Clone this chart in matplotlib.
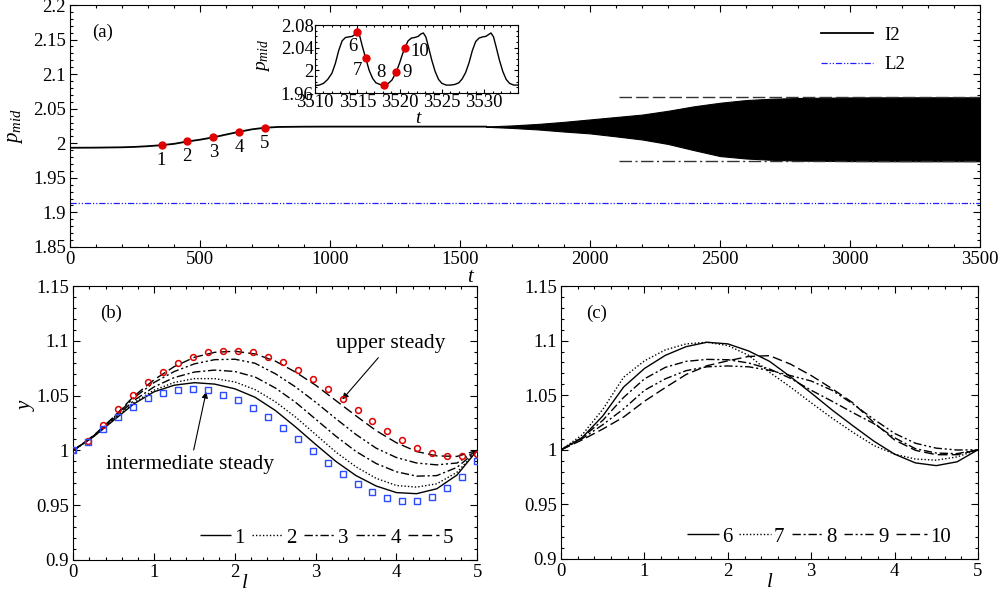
import numpy as np
import matplotlib

matplotlib.use('Agg')
import matplotlib.pyplot as plt
from matplotlib.ticker import MultipleLocator, FuncFormatter

plt.rcParams['font.family'] = ['Liberation Serif', 'DejaVu Serif']
plt.rcParams['mathtext.fontset'] = 'custom'
plt.rcParams['mathtext.rm'] = 'Liberation Serif'
plt.rcParams['mathtext.it'] = 'Liberation Serif:italic'
plt.rcParams['font.size'] = 13.5
plt.rcParams['axes.linewidth'] = 0.8

# ---------- panel (a): p_mid history ----------
t_main = [0, 100, 200, 250, 300, 350, 400, 450, 500, 550, 600, 650, 700, 750, 800, 900, 1000, 1200, 1400, 1600]
p_main = [1.9935, 1.9937, 1.9942, 1.9948, 1.9958, 1.9972, 1.9992, 2.0025, 2.0052, 2.0085, 2.0126, 2.0166,
          2.0202, 2.0225, 2.0236, 2.0240, 2.0241, 2.0241, 2.0241, 2.0241]

# envelope of the self-sustained oscillation
t_env = [1600, 1700, 1800, 1900, 2000, 2100, 2200, 2300, 2400, 2500, 2600, 2700, 2800, 3000, 3200, 3500]
p_up = [2.0243, 2.0258, 2.0280, 2.0310, 2.0345, 2.0380, 2.0415, 2.0470, 2.0535, 2.0586, 2.0625, 2.0645,
        2.0655, 2.0663, 2.0665, 2.0665]
p_lo = [2.0239, 2.0222, 2.0200, 2.0170, 2.0143, 2.0100, 2.0055, 1.9990, 1.9900, 1.9815, 1.9780, 1.9760,
        1.9750, 1.9742, 1.9740, 1.9740]

p_L2 = 1.913
p_max_ref = 2.0664
p_min_ref = 1.9740
t_ref = [2113, 3500]

pt_t = [352, 450, 551, 650, 750]
pt_p = [1.9974, 2.0027, 2.0085, 2.0167, 2.0225]
pt_lab = ['1', '2', '3', '4', '5']

# inset: one stretch of the periodic state
t_ins = [3510.0, 3510.5, 3511.0, 3511.5, 3512.0, 3512.4, 3512.8, 3513.2, 3513.6, 3514.0, 3514.4, 3514.7,
         3515.0, 3515.3, 3515.6, 3516.0, 3516.4, 3516.8, 3517.2, 3517.7, 3518.1, 3518.6, 3519.1, 3519.6,
         3520.0, 3520.3, 3520.6, 3521.0, 3521.4, 3521.8, 3522.2, 3522.5, 3522.8, 3523.1, 3523.4, 3523.8,
         3524.2, 3524.6, 3525.0, 3525.5, 3526.0, 3526.5, 3527.0, 3527.4, 3527.8, 3528.2, 3528.6, 3529.0,
         3529.4, 3529.8, 3530.2, 3530.5, 3530.8, 3531.1, 3531.4, 3531.8, 3532.2, 3532.6, 3533.0, 3533.5, 3534.0]
p_ins = [1.973, 1.974, 1.977, 1.984, 1.995, 2.012, 2.035, 2.052, 2.058, 2.059, 2.060, 2.063,
         2.067, 2.060, 2.042, 2.021, 2.000, 1.986, 1.978, 1.975, 1.974, 1.976, 1.983, 1.997,
         2.013, 2.027, 2.039, 2.052, 2.057, 2.058, 2.060, 2.064, 2.066, 2.059, 2.042, 2.018,
         1.998, 1.984, 1.977, 1.974, 1.974, 1.975, 1.978, 1.985, 1.996, 2.013, 2.035, 2.051,
         2.057, 2.059, 2.060, 2.063, 2.066, 2.059, 2.042, 2.018, 1.998, 1.984, 1.977, 1.974, 1.974]
ins_pt_t = [3515.0, 3516.0, 3518.1, 3519.6, 3520.6]
ins_pt_p = [2.067, 2.021, 1.974, 1.997, 2.039]
ins_lab = ['6', '7', '8', '9', '10']
ins_off = [(-3, -10), (-6, -9), (-2, 9), (8, 0), (11, -2)]

# ---------- panel (b): shapes 1-5 and steady solutions ----------
l_grid = [0, 0.25, 0.5, 0.75, 1.0, 1.25, 1.5, 1.75, 2.0, 2.25, 2.5, 2.75, 3.0, 3.25, 3.5, 3.75, 4.0,
          4.25, 4.5, 4.75, 5.0]
y_b1 = [1.000, 1.0125, 1.0275, 1.0425, 1.0535, 1.0595, 1.0618, 1.0605, 1.0562, 1.0485, 1.0365, 1.0215,
        1.0055, 0.9900, 0.9770, 0.9675, 0.9615, 0.9605, 0.9650, 0.9775, 1.000]
y_b2 = [1.000, 1.0128, 1.0280, 1.0435, 1.0550, 1.0620, 1.0655, 1.0655, 1.0625, 1.0555, 1.0445, 1.0305,
        1.0145, 0.9985, 0.9850, 0.9745, 0.9680, 0.9665, 0.9695, 0.9800, 1.000]
y_b3 = [1.000, 1.0130, 1.0290, 1.0455, 1.0580, 1.0665, 1.0715, 1.0733, 1.0720, 1.0670, 1.0570, 1.0440,
        1.0285, 1.0130, 0.9990, 0.9880, 0.9805, 0.9765, 0.9770, 0.9845, 1.000]
y_b4 = [1.000, 1.0133, 1.0300, 1.0480, 1.0620, 1.0720, 1.0790, 1.0828, 1.0832, 1.0795, 1.0700, 1.0580,
        1.0440, 1.0290, 1.0145, 1.0020, 0.9935, 0.9885, 0.9868, 0.9885, 1.000]
y_b5 = [1.000, 1.0135, 1.0305, 1.0495, 1.0645, 1.0765, 1.0850, 1.0895, 1.0905, 1.0880, 1.0815, 1.0715,
        1.0595, 1.0455, 1.0315, 1.0180, 1.0070, 0.9990, 0.9950, 0.9945, 1.000]

l_st = [0.0, 0.185, 0.370, 0.556, 0.741, 0.926, 1.111, 1.296, 1.481, 1.667, 1.852, 2.037, 2.222, 2.407,
        2.593, 2.778, 2.963, 3.148, 3.333, 3.519, 3.704, 3.889, 4.074, 4.259, 4.444, 4.630, 4.815, 5.0]
y_upper = [1.000, 1.0089, 1.0232, 1.0381, 1.0505, 1.0621, 1.0718, 1.0797, 1.0855, 1.0895, 1.0910, 1.0910,
           1.0895, 1.0855, 1.0804, 1.0730, 1.0651, 1.0563, 1.0469, 1.0369, 1.0271, 1.0180, 1.0095, 1.0025,
           0.9973, 0.9952, 0.9952, 0.9970]
y_inter = [1.000, 1.0074, 1.0192, 1.0308, 1.0399, 1.0475, 1.0527, 1.0551, 1.0560, 1.0548, 1.0509, 1.0457,
           1.0387, 1.0302, 1.0204, 1.0101, 0.9991, 0.9885, 0.9785, 0.9693, 0.9617, 0.9563, 0.9538, 0.9541,
           0.9578, 0.9654, 0.9760, 0.9903]

# ---------- panel (c): shapes 6-10 ----------
y_c6 = [1.000, 1.0110, 1.0310, 1.0575, 1.0745, 1.0865, 1.0945, 1.0985, 1.0970, 1.0905, 1.0810, 1.0670,
        1.0520, 1.0365, 1.0220, 1.0080, 0.9960, 0.9880, 0.9855, 0.9890, 1.000]
y_c7 = [1.000, 1.0135, 1.0370, 1.0665, 1.0815, 1.0915, 1.0970, 1.0985, 1.0955, 1.0865, 1.0710, 1.0575,
        1.0430, 1.0290, 1.0160, 1.0040, 0.9960, 0.9915, 0.9905, 0.9935, 1.000]
y_c8 = [1.000, 1.0110, 1.0270, 1.0480, 1.0650, 1.0755, 1.0810, 1.0828, 1.0825, 1.0795, 1.0740, 1.0655,
        1.0545, 1.0445, 1.0340, 1.0240, 1.0110, 1.0010, 0.9970, 0.9965, 1.000]
y_c9 = [1.000, 1.0100, 1.0230, 1.0375, 1.0545, 1.0650, 1.0725, 1.0760, 1.0768, 1.0760, 1.0728, 1.0680,
        1.0630, 1.0545, 1.0420, 1.0280, 1.0150, 1.0060, 1.0015, 0.9998, 1.000]
y_c10 = [1.000, 1.0090, 1.0190, 1.0300, 1.0445, 1.0570, 1.0690, 1.0770, 1.0815, 1.0855, 1.0862, 1.0785,
         1.0680, 1.0560, 1.0430, 1.0250, 1.0090, 0.9995, 0.9955, 0.9955, 1.000]

styles = [(0, ()), (0, (1, 1.5)), (0, (6, 2, 1.5, 2)), (0, (6, 2, 1.5, 2, 1.5, 2)), (0, (7, 3))]
fmt = FuncFormatter(lambda v, pos: f'{v:g}')
red = '#e00000'


def set_ticks(ax, xmaj, xmin, ymaj, ymin):
    ax.xaxis.set_major_locator(MultipleLocator(xmaj))
    ax.xaxis.set_minor_locator(MultipleLocator(xmin))
    ax.yaxis.set_major_locator(MultipleLocator(ymaj))
    ax.yaxis.set_minor_locator(MultipleLocator(ymin))
    ax.xaxis.set_major_formatter(fmt)
    ax.yaxis.set_major_formatter(fmt)
    ax.tick_params(which='both', direction='in', top=True, right=True, width=0.8)
    ax.tick_params(which='major', length=5, pad=3)
    ax.tick_params(which='minor', length=2.5)


fig = plt.figure(figsize=(10.02, 5.97), dpi=100)
ax_a = fig.add_axes([0.0699, 0.5863, 0.9082, 0.4053])
ax_b = fig.add_axes([0.0732, 0.0620, 0.4030, 0.4589])
ax_c = fig.add_axes([0.5600, 0.0637, 0.4160, 0.4572])
ax_i = fig.add_axes([0.3144, 0.8442, 0.2026, 0.1139])

# (a)
ax_a.plot(t_main, p_main, color='black', lw=1.3, label='I2')
ax_a.fill_between(t_env, p_lo, p_up, color='black', lw=0.8)
ax_a.axhline(p_L2, color='#2020ff', lw=0.9, dashes=(5, 1.5, 1, 1.5, 1, 1.5), label='L2')
ax_a.plot(t_ref, [p_max_ref, p_max_ref], color='#333333', lw=1.0, dashes=(9, 3))
ax_a.plot(t_ref, [p_min_ref, p_min_ref], color='#333333', lw=1.0, dashes=(9, 2.5, 1.5, 2.5))
ax_a.plot(pt_t, pt_p, 'o', color=red, ms=5, zorder=5)
for t, p, s in zip(pt_t, pt_p, pt_lab):
    ax_a.annotate(s, (t, p), xytext=(0, -11), textcoords='offset points', ha='center', va='center')
ax_a.set_xlim(0, 3500)
ax_a.set_ylim(1.85, 2.2)
set_ticks(ax_a, 500, 100, 0.05, 0.01)
ax_a.set_xlabel('t', fontsize=15, style='italic')
ax_a.xaxis.set_label_coords(0.44, -0.085)
ax_a.set_ylabel('$p_{mid}$', fontsize=15)
ax_a.yaxis.set_label_coords(-0.05, 0.5)
ax_a.text(0.036, 0.885, '(a)', transform=ax_a.transAxes, ha='center', va='center')
ax_a.legend(loc='upper right', bbox_to_anchor=(0.918, 0.91), frameon=False, borderpad=0,
            borderaxespad=0, handlelength=2.8, labelspacing=0.65, handletextpad=0.6)

# inset
ax_i.plot(t_ins, p_ins, color='black', lw=1.0)
ax_i.plot(ins_pt_t, ins_pt_p, 'o', color=red, ms=5, zorder=5)
for t, p, s, off in zip(ins_pt_t, ins_pt_p, ins_lab, ins_off):
    ax_i.annotate(s, (t, p), xytext=off, textcoords='offset points', ha='center', va='center')
ax_i.set_xlim(3510, 3534)
ax_i.set_ylim(1.96, 2.08)
set_ticks(ax_i, 5, 1, 0.04, 0.01)
ax_i.tick_params(which='major', length=3, pad=1)
ax_i.tick_params(which='minor', length=1.5)
ax_i.set_xlabel('t', fontsize=14, style='italic')
ax_i.xaxis.set_label_coords(0.507, -0.25)
ax_i.set_ylabel('$p_{mid}$', fontsize=14)
ax_i.yaxis.set_label_coords(-0.21, 0.55)

# (b)
b_curves = [y_b1, y_b2, y_b3, y_b4, y_b5]
for i, yy in enumerate(b_curves):
    ax_b.plot(l_grid, yy, color='black', lw=1.0, linestyle=styles[i], label=str(i + 1))
ax_b.plot(l_st, y_upper, 'o', mfc='none', mec=red, ms=4.2, mew=1.1, zorder=4)
ax_b.plot(l_st, y_inter, 's', mfc='none', mec='#2a4bff', ms=3.8, mew=1.0, zorder=4)
ax_b.annotate('upper steady', xy=(3.33, 1.0465), xytext=(3.93, 1.0977), ha='center', va='center',
              fontsize=15.5,
              arrowprops=dict(arrowstyle='-|>', color='black', lw=0.8, mutation_scale=9, shrinkB=0))
ax_b.annotate('intermediate steady', xy=(1.645, 1.0535), xytext=(1.45, 0.9867), ha='center', va='center',
              fontsize=15.5,
              arrowprops=dict(arrowstyle='-|>', color='black', lw=0.8, mutation_scale=9, shrinkB=0))
ax_b.set_xlim(0, 5)
ax_b.set_ylim(0.9, 1.15)
set_ticks(ax_b, 1, 0.2, 0.05, 0.01)
ax_b.set_xlabel('l', fontsize=15, style='italic')
ax_b.xaxis.set_label_coords(0.425, -0.052)
ax_b.set_ylabel('y', fontsize=15, style='italic')
ax_b.yaxis.set_label_coords(-0.09, 0.56)
ax_b.text(0.093, 0.9, '(b)', transform=ax_b.transAxes, ha='center', va='center')
ax_b.legend(loc='lower right', bbox_to_anchor=(0.94, 0.045), ncol=5, frameon=False, fontsize=15,
            borderpad=0, borderaxespad=0, handlelength=1.5, handletextpad=0.15, columnspacing=0.35)

# (c)
c_curves = [y_c6, y_c7, y_c8, y_c9, y_c10]
for i, yy in enumerate(c_curves):
    ax_c.plot(l_grid, yy, color='black', lw=1.0, linestyle=styles[i], label=str(i + 6))
ax_c.set_xlim(0, 5)
ax_c.set_ylim(0.9, 1.15)
set_ticks(ax_c, 1, 0.2, 0.05, 0.01)
ax_c.set_xlabel('l', fontsize=15, style='italic')
ax_c.xaxis.set_label_coords(0.5, -0.052)
ax_c.text(0.086, 0.9, '(c)', transform=ax_c.transAxes, ha='center', va='center')
ax_c.legend(loc='lower right', bbox_to_anchor=(0.935, 0.045), ncol=5, frameon=False, fontsize=15,
            borderpad=0, borderaxespad=0, handlelength=1.5, handletextpad=0.15, columnspacing=0.35)

fig.savefig('out.png', dpi=100)
